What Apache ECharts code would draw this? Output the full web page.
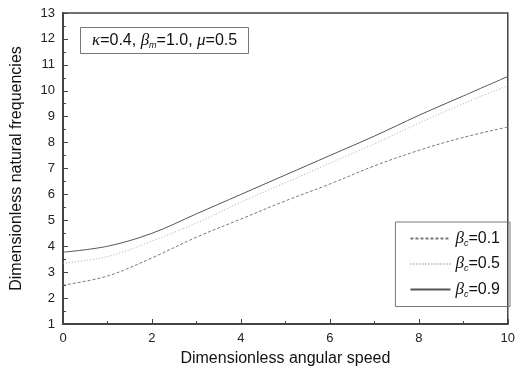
<!DOCTYPE html>
<html>
<head>
<meta charset="utf-8">
<script src="https://cdn.jsdelivr.net/npm/echarts@6/dist/echarts.min.js"></script>
<style>
  html, body { margin: 0; padding: 0; background: #fff; }
  #main { width: 518px; height: 372px; }
</style>
</head>
<body>
<div id="main"></div>
<script>
// angular speed samples
var speeds = [0, 1, 2, 3, 4, 5, 6, 7, 8, 9, 10];
// natural frequencies
var beta01 = [2.5, 2.85, 3.55, 4.35, 5.05, 5.75, 6.4, 7.1, 7.7, 8.2, 8.6];
var beta05 = [3.35, 3.6, 4.2, 4.9, 5.7, 6.45, 7.2, 7.95, 8.75, 9.5, 10.2];
var beta09 = [3.77, 4.0, 4.5, 5.25, 6.0, 6.75, 7.5, 8.25, 9.05, 9.8, 10.55];
var seriesNames = ['βc=0.1', 'βc=0.5', 'βc=0.9'];

function pairs(ys) {
    return speeds.map(function (x, i) { return [x, ys[i]]; });
}

var font = 'Liberation Sans, Arial, sans-serif';
var myChart = echarts.init(document.getElementById('main'));

var greek = {
    g: { fontFamily: 'Liberation Serif, serif', fontStyle: 'italic', fontWeight: 'normal', fontSize: 17, color: '#111' },
    s: { fontFamily: font, fontStyle: 'italic', fontWeight: 'normal', fontSize: 9, color: '#111', verticalAlign: 'bottom', padding: [9, 0, 0, 0] },
    n: { fontFamily: font, fontWeight: 'normal', fontSize: 16, color: '#111' }
};

var option = {
    animation: false,
    title: {
        text: '{g|κ}{n|=0.4, }{g|β}{s|m}{n|=1.0, }{g|μ}{n|=0.5}',
        left: 80,
        top: 27,
        padding: [5, 12, 4, 12],
        borderColor: '#777',
        borderWidth: 1,
        textStyle: { fontWeight: 'normal', rich: greek }
    },
    legend: {
        data: seriesNames,
        orient: 'vertical',
        right: 8,
        top: 222,
        itemWidth: 40,
        itemHeight: 10,
        itemGap: 8,
        padding: [8, 10, 8, 14],
        borderColor: '#777',
        borderWidth: 1,
        itemStyle: { opacity: 0 },
        formatter: function (name) {
            return '{g|β}{s|c}{n|' + name.slice(2) + '}';
        },
        textStyle: { rich: greek }
    },
    grid: {
        left: 63,
        right: 7,
        top: 13,
        bottom: 47,
        show: true,
        borderColor: '#444',
        borderWidth: 1.5
    },
    xAxis: {
        type: 'value',
        min: 0,
        max: 10,
        interval: 2,
        name: 'Dimensionless angular speed',
        nameLocation: 'middle',
        nameGap: 27,
        nameTextStyle: { fontFamily: font, fontSize: 16, color: '#111' },
        axisLine: { lineStyle: { color: '#444', width: 2 } },
        axisTick: { inside: true, length: 5, lineStyle: { color: '#444' } },
        minorTick: { show: true, splitNumber: 2, length: 3, lineStyle: { color: '#444' } },
        axisLabel: { fontFamily: font, fontSize: 13, color: '#222', margin: 8 },
        splitLine: { show: false }
    },
    yAxis: {
        type: 'value',
        min: 1,
        max: 13,
        interval: 1,
        name: 'Dimensionless natural frequencies',
        nameLocation: 'middle',
        nameGap: 38,
        nameTextStyle: { fontFamily: font, fontSize: 16, color: '#111' },
        axisLine: { show: true, lineStyle: { color: '#444', width: 2 } },
        axisTick: { show: true, inside: true, length: 5, lineStyle: { color: '#444' } },
        minorTick: { show: true, splitNumber: 2, length: 3, lineStyle: { color: '#444' } },
        axisLabel: { fontFamily: font, fontSize: 13, color: '#222', margin: 8 },
        splitLine: { show: false }
    },
    series: [
        {
            name: seriesNames[0],
            type: 'line',
            smooth: 0.35,
            symbol: 'none',
            lineStyle: { color: '#777', width: 1, type: [3, 2] },
            itemStyle: { color: '#777' },
            data: pairs(beta01)
        },
        {
            name: seriesNames[1],
            type: 'line',
            smooth: 0.35,
            symbol: 'none',
            lineStyle: { color: '#aaa', width: 1, type: [1, 2] },
            itemStyle: { color: '#aaa' },
            data: pairs(beta05)
        },
        {
            name: seriesNames[2],
            type: 'line',
            smooth: 0.35,
            symbol: 'none',
            lineStyle: { color: '#555', width: 1 },
            itemStyle: { color: '#555' },
            data: pairs(beta09)
        }
    ]
};

option && myChart.setOption(option);
</script>
</body>
</html>
